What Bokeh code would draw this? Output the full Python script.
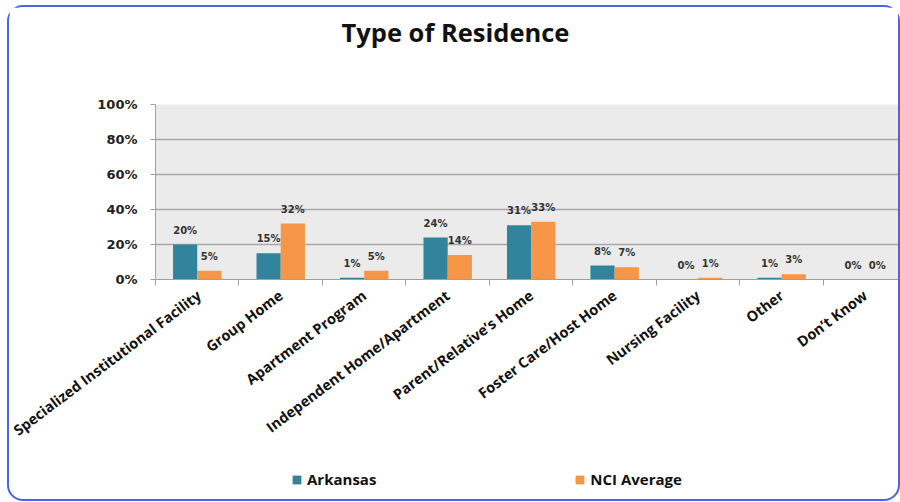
from bokeh.plotting import figure
from bokeh.layouts import column
from bokeh.models import ColumnDataSource, Range1d, FixedTicker, Legend, LegendItem, Title
from bokeh.embed import file_html
from bokeh.resources import INLINE
from bokeh.core.properties import value

categories = ["Specialized Institutional Facility", "Group Home", "Apartment Program",
              "Independent Home/Apartment", "Parent/Relative\u2019s Home",
              "Foster Care/Host Home", "Nursing Facility", "Other", "Don\u2019t Know"]
arkansas = [20, 15, 1, 24, 31, 8, 0, 1, 0]
nci = [5, 32, 5, 14, 33, 7, 1, 3, 0]
y_ticks = [0, 20, 40, 60, 80, 100]
series_names = ["Arkansas", "NCI Average"]

ARK_COLOR = "#31849b"
NCI_COLOR = "#f79646"
BAR_W = 0.29

idx = list(range(len(categories)))
centers = [i + 0.5 for i in idx]
src = ColumnDataSource(dict(
    xa=[c - BAR_W / 2 for c in centers],
    xn=[c + BAR_W / 2 for c in centers],
    ark=arkansas, nci=nci,
    ark_lbl=[f"{v}%" for v in arkansas],
    nci_lbl=[f"{v}%" for v in nci],
))

p = figure(width=889, height=462, output_backend="svg", toolbar_location=None,
           x_range=Range1d(0, 8.9), y_range=Range1d(0, 100),
           min_border_left=146, min_border_right=0, min_border_top=97,
           min_border_bottom=190, title_location=None)

p.background_fill_color = "#ebebeb"
p.border_fill_color = "white"
p.outline_line_color = None
p.xgrid.grid_line_color = None
p.ygrid.ticker = FixedTicker(ticks=y_ticks)
p.ygrid.grid_line_color = "#a8a8a8"
p.ygrid.grid_line_width = 1.5

r1 = p.vbar(x="xa", top="ark", width=BAR_W, bottom=0, source=src,
            fill_color=ARK_COLOR, line_color=None)
r2 = p.vbar(x="xn", top="nci", width=BAR_W, bottom=0, source=src,
            fill_color=NCI_COLOR, line_color=None)

p.text(x="xa", y="ark", text="ark_lbl", source=src, text_align="center",
       text_baseline="bottom", y_offset=-9, text_font=value("DejaVu Sans"),
       text_font_size="10px", text_font_style="bold", text_color="#333333")
p.text(x="xn", y="nci", text="nci_lbl", source=src, text_align="center",
       text_baseline="bottom", y_offset=-9, text_font=value("DejaVu Sans"),
       text_font_size="10px", text_font_style="bold", text_color="#333333")

# y axis
p.yaxis.ticker = FixedTicker(ticks=y_ticks)
p.yaxis.major_label_overrides = {v: f"{v}%" for v in y_ticks}
p.yaxis.major_label_text_font = "DejaVu Sans"
p.yaxis.major_label_text_font_size = "13px"
p.yaxis.major_label_text_font_style = "bold"
p.yaxis.major_label_text_color = "#222222"
p.yaxis.major_label_standoff = 13
p.yaxis.axis_line_color = "#a0a0a0"
p.yaxis.major_tick_line_color = "#a0a0a0"
p.yaxis.major_tick_in = 0
p.yaxis.major_tick_out = 5
p.yaxis.minor_tick_line_color = None

# x axis
p.xaxis.ticker = FixedTicker(ticks=centers, minor_ticks=list(range(len(categories) + 1)))
p.xaxis.major_label_overrides = {c: cat for c, cat in zip(centers, categories)}
p.xaxis.major_label_orientation = 0.645
p.xaxis.major_label_text_font = "Open Sans"
p.xaxis.major_label_text_font_size = "14.5px"
p.xaxis.major_label_text_font_style = "bold"
p.xaxis.major_label_text_color = "#111111"
p.xaxis.major_label_standoff = 8
p.xaxis.axis_line_color = "#a0a0a0"
p.xaxis.major_tick_line_color = None
p.xaxis.minor_tick_line_color = "#a0a0a0"
p.xaxis.minor_tick_in = 0
p.xaxis.minor_tick_out = 6

# title with a spacer between it and the frame
spacer = Title(text=" ", text_font_size="20px", standoff=27)
title = Title(text="Type of Residence", text_font="Open Sans", text_font_size="25.5px",
              text_font_style="bold", text_color="#111111", align="left",
              offset=186, standoff=10)
p.add_layout(spacer, "above")
p.add_layout(title, "above")

# legend strip below the chart (frames of a column are aligned)
lf = figure(width=889, height=30, output_backend="svg", toolbar_location=None,
            x_range=Range1d(0, 1), y_range=Range1d(0, 1),
            min_border=0, title_location=None)
lf.axis.visible = False
lf.grid.visible = False
lf.outline_line_color = None
lf.background_fill_color = None
lf.border_fill_color = None
la = lf.vbar(x=[-5], top=[-5], width=0.1, fill_color=ARK_COLOR, line_color=None)
ln = lf.vbar(x=[-5], top=[-5], width=0.1, fill_color=NCI_COLOR, line_color=None)
legend = Legend(items=[LegendItem(label=series_names[0], renderers=[la]),
                       LegendItem(label=series_names[1], renderers=[ln])],
                location=(136, 10), orientation="horizontal", spacing=198,
                glyph_width=11, glyph_height=11, label_standoff=5,
                padding=0, margin=0, border_line_color=None,
                background_fill_alpha=0, label_text_font="Open Sans",
                label_text_font_size="15px", label_text_font_style="bold",
                label_text_color="#111111")
lf.add_layout(legend)

layout = column(p, lf, spacing=0, width=893, height=496)
layout.styles = {"border": "2px solid #4a64e8", "border-radius": "16px",
                 "margin-left": "7px", "margin-top": "5px",
                 "background-color": "white"}

open("out.html", "w").write(file_html(layout, INLINE))
